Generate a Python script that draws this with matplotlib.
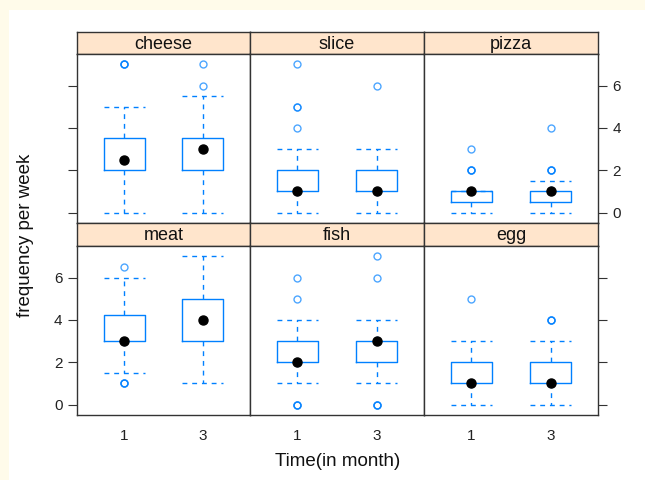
import matplotlib
matplotlib.use("Agg")
import matplotlib.pyplot as plt
import matplotlib.patches as patches

plt.rcParams['font.family'] = ['Liberation Sans', 'DejaVu Sans']

# panel order: top row then bottom row
panels = ["cheese", "slice", "pizza", "meat", "fish", "egg"]
time_labels = ["1", "3"]

# box statistics per panel, one value per time point
q1      = [[2.0, 2.0], [1.0, 1.0], [0.5, 0.5], [3.0, 3.0], [2.0, 2.0], [1.0, 1.0]]
medians = [[2.5, 3.0], [1.0, 1.0], [1.0, 1.0], [3.0, 4.0], [2.0, 3.0], [1.0, 1.0]]
q3      = [[3.5, 3.5], [2.0, 2.0], [1.0, 1.0], [4.25, 5.0], [3.0, 3.0], [2.0, 2.0]]
whislo  = [[0.0, 0.0], [0.0, 0.0], [0.0, 0.0], [1.5, 1.0], [1.0, 1.0], [0.0, 0.0]]
whishi  = [[5.0, 5.5], [3.0, 3.0], [1.0, 1.5], [6.0, 7.0], [4.0, 4.0], [3.0, 3.0]]
fliers  = [[[7, 7, 7], [6, 7]],
           [[4, 5, 5, 7], [6]],
           [[2, 2, 2, 3], [2, 2, 2, 4]],
           [[1, 1, 1, 6.5], []],
           [[0, 0, 0, 5, 6], [0, 0, 0, 6, 7]],
           [[5], [4, 4, 4]]]

y_ticks = [0, 2, 4, 6]

BOX_BLUE = "#0080ff"
STRIP_BG = "#ffe5cc"
FRAME = "#333333"

W, H = 645, 480
fig = plt.figure(figsize=(W / 100, H / 100), dpi=100)
fig.patch.set_facecolor("#fffbea")
# white page area (cream border only on top and left)
fig.add_artist(patches.Rectangle((9 / W, 0), 1, 1 - 10 / H, transform=fig.transFigure,
                                 facecolor="white", edgecolor="none", zorder=-10))

col_edges = [77, 250, 424, 598]
row_boxes = [(32, 54, 223), (223, 246, 415)]  # strip top, plot top, plot bottom


def fig_rect(x0, y0, x1, y1):
    return [x0 / W, 1 - y1 / H, (x1 - x0) / W, (y1 - y0) / H]


for k, name in enumerate(panels):
    r, c = divmod(k, 3)
    x0, x1 = col_edges[c], col_edges[c + 1]
    st, pt, pb = row_boxes[r]

    # strip
    sax = fig.add_axes(fig_rect(x0, st, x1, pt))
    sax.set_facecolor(STRIP_BG)
    sax.set_xticks([])
    sax.set_yticks([])
    for sp in sax.spines.values():
        sp.set_color(FRAME)
        sp.set_linewidth(1.0)
    sax.text(0.5, 0.45, name, ha="center", va="center", fontsize=13, color="#111111",
             transform=sax.transAxes)

    ax = fig.add_axes(fig_rect(x0, pt, x1, pb))
    stats = []
    for i in range(2):
        stats.append(dict(med=medians[k][i], q1=q1[k][i], q3=q3[k][i],
                          whislo=whislo[k][i], whishi=whishi[k][i], fliers=fliers[k][i]))
    ax.bxp(stats, positions=[1, 2], widths=0.52, capwidths=0.52, patch_artist=False,
           boxprops=dict(color=BOX_BLUE, linewidth=1.0),
           whiskerprops=dict(color=BOX_BLUE, linewidth=1.0, linestyle=(0, (3.5, 3.5))),
           capprops=dict(color=BOX_BLUE, linewidth=1.0, linestyle=(0, (3.5, 3.5))),
           medianprops=dict(linestyle="none"),
           flierprops=dict(marker="o", markerfacecolor="none", markeredgecolor=BOX_BLUE,
                           markersize=5, markeredgewidth=1.0, alpha=0.7))
    ax.plot([1, 2], medians[k], "o", color="black", markersize=6.5, zorder=5)

    ax.set_xlim(0.4, 2.6)
    ax.set_ylim(-0.49, 7.49)
    for sp in ax.spines.values():
        sp.set_color(FRAME)
        sp.set_linewidth(1.0)

    # x axis: labels only on the bottom row
    ax.set_xticks([1, 2])
    if r == 1:
        ax.set_xticklabels(time_labels, fontsize=11, color="#222222")
        ax.tick_params(axis="x", length=0, pad=10)
    else:
        ax.tick_params(axis="x", length=0, labelbottom=False)

    # y axis: alternating like lattice
    ax.set_yticks(y_ticks)
    if c == 0:
        ax.tick_params(axis="y", left=True, right=False, labelleft=(r == 1), labelright=False,
                       length=6.5, color=FRAME, labelsize=11, labelcolor="#222222", pad=4)
    elif c == 2:
        ax.tick_params(axis="y", left=False, right=True, labelleft=False, labelright=(r == 0),
                       length=6.5, color=FRAME, labelsize=11, labelcolor="#222222", pad=4)
    else:
        ax.tick_params(axis="y", left=False, right=False, labelleft=False)

fig.text(338 / W, 1 - 461 / H, "Time(in month)", ha="center", va="center",
         fontsize=13.5, color="#111111")
fig.text(26 / W, 1 - 235 / H, "frequency per week", ha="center", va="center",
         rotation=90, fontsize=13.5, color="#111111")

fig.savefig("out.png", dpi=100, facecolor=fig.get_facecolor())
